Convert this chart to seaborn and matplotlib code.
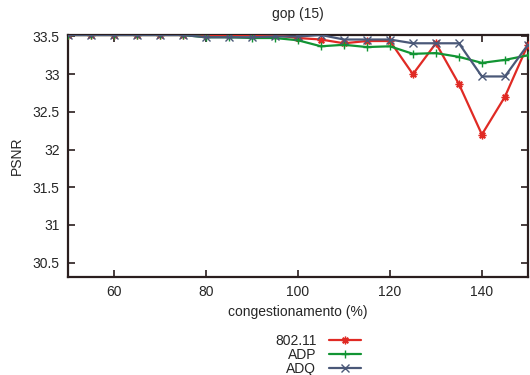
import matplotlib
matplotlib.use("Agg")
import matplotlib.pyplot as plt
import seaborn as sns
import pandas as pd

congestion = [50, 55, 60, 65, 70, 75, 80, 85, 90, 95, 100, 105, 110, 115, 120, 125, 130, 135, 140, 145, 150]
psnr_80211 = [33.52, 33.52, 33.52, 33.52, 33.52, 33.52, 33.52, 33.52, 33.52, 33.52, 33.48, 33.46, 33.41, 33.44, 33.44, 33.00, 33.41, 32.87, 32.20, 32.70, 33.39]
psnr_adp = [33.52, 33.52, 33.52, 33.52, 33.52, 33.52, 33.49, 33.49, 33.48, 33.48, 33.45, 33.37, 33.39, 33.36, 33.37, 33.27, 33.28, 33.23, 33.15, 33.19, 33.25]
psnr_adq = [33.52, 33.52, 33.52, 33.52, 33.52, 33.52, 33.49, 33.49, 33.49, 33.50, 33.50, 33.52, 33.46, 33.46, 33.46, 33.41, 33.41, 33.41, 32.97, 32.97, 33.39]
series_names = ["802.11", "ADP", "ADQ"]
y_ticks = [30.5, 31, 31.5, 32, 32.5, 33, 33.5]
x_ticks = [60, 80, 100, 120, 140]

sns.set_style("ticks")
plt.rcParams["font.family"] = ["Liberation Sans", "DejaVu Sans"]
plt.rcParams["font.size"] = 10

fig = plt.figure(figsize=(5.3, 3.75), dpi=100)
ax = fig.add_axes([0.1283, 0.2613, 0.8677, 0.6454])

colors = ["#e02a24", "#119433", "#4a5878"]
markers = [(8, 2, 0), "+", "x"]
data = [psnr_80211, psnr_adp, psnr_adq]
for name, vals, c, m in zip(series_names, data, colors, markers):
    df = pd.DataFrame({"x": congestion, "y": vals})
    sns.lineplot(data=df, x="x", y="y", ax=ax, color=c, marker=m, markersize=5.5,
                 markeredgewidth=1.0, markeredgecolor=c, linewidth=1.6, label=name,
                 legend=False, zorder=3)
handles = ax.get_lines()

ax.set_xlim(50, 150)
ax.set_ylim(30.31, 33.52)
ax.set_xticks(x_ticks)
ax.set_yticks(y_ticks)
ax.set_yticklabels([f"{t:g}" for t in y_ticks])
ax.tick_params(direction="in", top=True, right=True, length=5, width=1.2,
               color="#2a1e1e", labelsize=10, pad=6)
for s in ax.spines.values():
    s.set_color("#2a1e1e")
    s.set_linewidth(1.6)
ax.set_xlabel("congestionamento (%)", fontsize=10, labelpad=4)
ax.set_ylabel("PSNR", fontsize=10, labelpad=6)
ax.set_title("gop (15)", fontsize=10, pad=12)

fig.legend(handles, series_names, loc="upper center", bbox_to_anchor=(0.6, 0.125),
           frameon=False, markerfirst=False, handlelength=2.3, labelspacing=0.0,
           handletextpad=0.9, borderaxespad=0, fontsize=10)

fig.savefig("out.png", dpi=100)
